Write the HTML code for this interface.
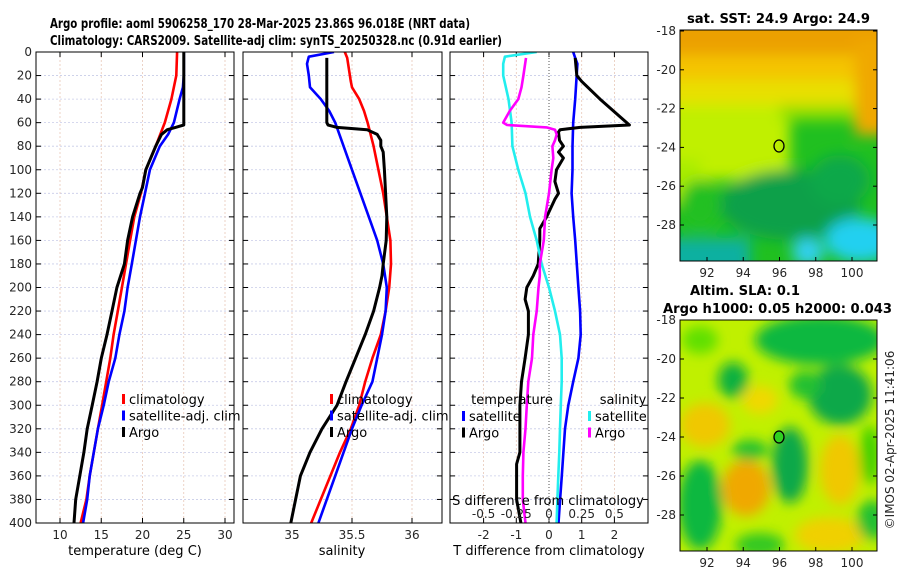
<!DOCTYPE html>
<html><head><meta charset="utf-8"><style>
body{margin:0;background:#fff;}
svg{display:block;font-family:"DejaVu Sans","Liberation Sans",sans-serif;}
.tk{font-size:12px;fill:#262626;}
.ttl{font-size:13.5px;font-weight:bold;fill:#000;}
.lg{font-size:13px;fill:#000;}
</style></head><body>
<svg id="fig" width="900" height="580" viewBox="0 0 900 580" xmlns="http://www.w3.org/2000/svg">
<defs>
<filter id="bl" x="-50%" y="-50%" width="200%" height="200%"><feGaussianBlur stdDeviation="7"/></filter>
<filter id="bl2" x="-50%" y="-50%" width="200%" height="200%"><feGaussianBlur stdDeviation="6"/></filter>
<clipPath id="c1"><rect x="36" y="52" width="198" height="471"/></clipPath>
<clipPath id="c2"><rect x="243" y="52" width="199" height="471"/></clipPath>
<clipPath id="c3"><rect x="450" y="52" width="198" height="471"/></clipPath>
<clipPath id="m1"><rect x="680" y="30" width="197" height="231"/></clipPath>
<clipPath id="m2"><rect x="680" y="320" width="197" height="231"/></clipPath>
</defs>
<text class="ttl" x="50" y="28" textLength="420" lengthAdjust="spacingAndGlyphs">Argo profile: aoml 5906258_170 28-Mar-2025 23.86S 96.018E (NRT data)</text>
<text class="ttl" x="50" y="45" textLength="452" lengthAdjust="spacingAndGlyphs">Climatology: CARS2009. Satellite-adj clim: synTS_20250328.nc (0.91d earlier)</text>
<g id="panels"></g>
<g id="maps">
<text class="ttl" x="687" y="23" textLength="183" lengthAdjust="spacingAndGlyphs">sat. SST: 24.9 Argo: 24.9</text>
<g clip-path="url(#m1)">
<rect x="680" y="30" width="197" height="231" fill="#20c020"/>
<g filter="url(#bl)">
<rect x="660" y="95" width="130" height="85" fill="#c0f000"/>
<rect x="660" y="160" width="40" height="45" fill="#a8ec00"/>
<rect x="780" y="95" width="110" height="25" fill="#90e000"/>
<rect x="660" y="70" width="240" height="35" fill="#e8e000"/>
<rect x="660" y="50" width="240" height="30" fill="#f4c400"/>
<rect x="660" y="10" width="240" height="45" fill="#eca000"/>
<rect x="855" y="40" width="40" height="95" fill="#f0a800"/>
<ellipse cx="790" cy="205" rx="70" ry="35" fill="#10a048"/>
<ellipse cx="840" cy="180" rx="30" ry="25" fill="#10a848"/>
<ellipse cx="700" cy="205" rx="20" ry="25" fill="#20c020"/>
<rect x="660" y="238" width="90" height="40" fill="#10b0a0"/>
<ellipse cx="860" cy="240" rx="35" ry="22" fill="#20d0f0"/>
<ellipse cx="808" cy="252" rx="16" ry="14" fill="#30d0f0"/>
</g></g>
<rect x="680" y="30" width="197" height="231" fill="none" stroke="#000" stroke-width="1"/>
<ellipse cx="779" cy="146" rx="5" ry="6" fill="none" stroke="#000" stroke-width="1.3"/>
<text class="ttl" x="690" y="295" textLength="110" lengthAdjust="spacingAndGlyphs">Altim. SLA: 0.1</text>
<text class="ttl" x="663" y="313" textLength="229" lengthAdjust="spacingAndGlyphs">Argo h1000: 0.05 h2000: 0.043</text>
<g clip-path="url(#m2)">
<rect x="680" y="320" width="197" height="231" fill="#c0f000"/>
<g filter="url(#bl2)">
<ellipse cx="820" cy="340" rx="65" ry="25" fill="#10b840"/>
<ellipse cx="700" cy="340" rx="18" ry="14" fill="#60e000"/>
<ellipse cx="733" cy="380" rx="15" ry="18" fill="#10b040"/>
<ellipse cx="840" cy="395" rx="32" ry="30" fill="#10a848"/>
<ellipse cx="805" cy="385" rx="16" ry="14" fill="#20c030"/>
<ellipse cx="705" cy="425" rx="25" ry="22" fill="#f0c800"/>
<ellipse cx="760" cy="400" rx="18" ry="14" fill="#f0d800"/>
<ellipse cx="790" cy="465" rx="18" ry="38" fill="#10a848"/>
<ellipse cx="750" cy="450" rx="18" ry="10" fill="#20c030"/>
<ellipse cx="700" cy="505" rx="22" ry="45" fill="#10b840"/>
<ellipse cx="746" cy="488" rx="24" ry="28" fill="#f0a800"/>
<ellipse cx="840" cy="470" rx="20" ry="35" fill="#f0c800"/>
<ellipse cx="870" cy="455" rx="10" ry="30" fill="#40d000"/>
<ellipse cx="830" cy="535" rx="35" ry="18" fill="#f0d000"/>
<ellipse cx="872" cy="520" rx="15" ry="20" fill="#20c030"/>
<ellipse cx="760" cy="545" rx="25" ry="12" fill="#30c820"/>
</g></g>
<rect x="680" y="320" width="197" height="231" fill="none" stroke="#000" stroke-width="1"/>
<ellipse cx="779" cy="437" rx="5" ry="6" fill="#30d020" stroke="#000" stroke-width="1.3"/>
<text class="tk" transform="translate(894,440) rotate(-90)" text-anchor="middle" font-size="13">©IMOS 02-Apr-2025 11:41:06</text>
</g>
</svg>
<script>
const depthTicks=[0,20,40,60,80,100,120,140,160,180,200,220,240,260,280,300,320,340,360,380,400];
const tempTicks=[10,15,20,25,30];
const salTicks=[35,35.5,36];
const tdTicks=[-2,-1,0,1,2];
const sdTicks=[-0.5,-0.25,0,0.25,0.5];
const sdTickLabels=["-0.5","-0.25","0","0.25","0.5"];
const latTicks=[-18,-20,-22,-24,-26,-28];
const lonTicks=[92,94,96,98,100];
// temperature profiles
const tClimDepth=[0,20,40,60,80,100,120,140,160,180,200,220,240,260,280,300,320,340,360,380,400];
const tClimVal=[24.2,24.1,23.5,22.7,21.6,20.4,19.8,19.0,18.5,18.0,17.5,17.0,16.5,16.1,15.6,15.1,14.6,14.1,13.6,13.2,12.5];
const tSatDepth=[0,20,30,40,60,70,80,100,120,140,160,180,200,220,240,260,280,300,320,340,360,380,400];
const tSatVal=[25.0,25.0,24.9,24.5,23.8,23.1,22.1,20.9,20.3,19.7,19.2,18.7,18.2,17.8,17.2,16.7,15.9,15.3,14.6,14.1,13.6,13.3,12.8];
const tArgoDepth=[0,20,40,62,64,66,70,80,100,115,120,140,160,180,200,220,240,260,280,300,320,340,360,380,400];
const tArgoVal=[25.0,25.0,25.0,25.0,24.0,23.0,22.3,21.6,20.4,20.0,19.7,18.8,18.2,17.8,16.9,16.3,15.7,15.0,14.5,13.9,13.3,12.9,12.4,11.9,11.7];
// salinity profiles
const sClimDepth=[0,5,25,30,40,50,60,80,100,120,140,160,180,200,220,240,260,280,300,320,340,360,380,400];
const sClimVal=[35.44,35.46,35.49,35.5,35.56,35.6,35.63,35.68,35.72,35.76,35.79,35.82,35.825,35.81,35.78,35.74,35.67,35.61,35.56,35.49,35.40,35.32,35.24,35.16];
const sSatDepth=[0,4,10,20,30,40,50,60,80,100,120,140,160,180,200,220,240,260,280,300,320,340,360,380,400];
const sSatVal=[35.35,35.14,35.125,35.14,35.15,35.24,35.31,35.36,35.43,35.5,35.57,35.64,35.71,35.76,35.79,35.78,35.75,35.71,35.67,35.58,35.5,35.43,35.36,35.29,35.22];
const sArgoDepth=[5,60,62,64,66,70,75,80,85,100,120,140,160,180,190,200,220,240,260,280,300,320,340,360,380,400];
const sArgoVal=[35.29,35.29,35.30,35.375,35.625,35.71,35.74,35.74,35.76,35.77,35.78,35.79,35.785,35.76,35.75,35.73,35.68,35.61,35.53,35.45,35.375,35.25,35.15,35.07,35.03,34.99];
// differences
const dTSatDepth=[0,5,10,40,60,80,100,120,140,160,180,200,220,240,260,280,300,320,340,360,380,400];
const dTSatVal=[0.74,0.8,0.87,0.8,0.74,0.72,0.72,0.69,0.74,0.8,0.85,0.9,0.95,0.97,0.9,0.74,0.59,0.49,0.44,0.39,0.34,0.29];
const dTArgoDepth=[5,20,25,40,55,62,64,66,68,75,80,85,90,100,110,120,125,140,150,160,180,190,200,210,220,240,260,280,300,320,340,350,360,380,400];
const dTArgoVal=[0.8,0.85,1.0,1.56,2.17,2.46,0.95,0.34,0.29,0.32,0.44,0.29,0.44,0.23,0.18,0.29,0.18,-0.07,-0.28,-0.28,-0.33,-0.48,-0.68,-0.73,-0.63,-0.63,-0.73,-0.84,-0.89,-0.89,-0.89,-0.99,-0.99,-0.99,-0.86];
const dSSatDepth=[0,4,10,20,40,60,80,100,120,140,160,180,200,220,240,260,280,300,320,340,360,380,400];
const dSSatVal=[-0.094,-0.337,-0.35,-0.35,-0.31,-0.286,-0.28,-0.235,-0.18,-0.145,-0.094,-0.056,0,0.046,0.084,0.097,0.097,0.09,0.084,0.079,0.071,0.064,0.058];
const dSArgoDepth=[5,20,30,40,50,60,62,64,66,70,75,80,90,100,120,140,160,180,190,200,220,240,260,280,300,320,340,360,380,400];
const dSArgoVal=[-0.176,-0.196,-0.21,-0.235,-0.3,-0.35,-0.32,-0.018,0.046,0.059,0.046,0.026,0.033,0.02,0,-0.03,-0.04,-0.07,-0.07,-0.08,-0.094,-0.12,-0.13,-0.158,-0.17,-0.18,-0.196,-0.2,-0.2,-0.18];

const NS='http://www.w3.org/2000/svg';
const root=document.getElementById('panels');
const Y0=52,Y1=523;
function yD(d){return Y0+(d/400)*(Y1-Y0);}
function mk(tag,attrs,parent){const e=document.createElementNS(NS,tag);for(const k in attrs)e.setAttribute(k,attrs[k]);(parent||root).appendChild(e);return e;}
function lin(v0,v1,p0,p1){return v=>p0+(v-v0)/(v1-v0)*(p1-p0);}
const xT=lin(10,30,60,225);
const xS=lin(35,36,292,412);
const xTD=lin(0,1,549,581.7);
const xSD=lin(0,0.25,549,581.7);
const panels=[
 {x0:36,x1:234,clip:'c1',name:'temperature-panel'},
 {x0:243,x1:442,clip:'c2',name:'salinity-panel'},
 {x0:450,x1:648,clip:'c3',name:'difference-panel'}];

function drawFrame(p,xTicks,xf,gridX,leftLabels){
  const g=mk('g',{});
  
  
  mk('rect',{x:p.x0,y:Y0,width:p.x1-p.x0,height:Y1-Y0,fill:'#fff'},g);
  depthTicks.forEach(d=>{
    const l=mk('line',{x1:p.x0,x2:p.x1,y1:yD(d),y2:yD(d),stroke:'#c8cce8','stroke-width':0.8,'stroke-dasharray':'2,2'},g);
    
    
    mk('line',{x1:p.x0,x2:p.x0+5,y1:yD(d),y2:yD(d),stroke:'#000'},g);
    mk('line',{x1:p.x1,x2:p.x1-5,y1:yD(d),y2:yD(d),stroke:'#000'},g);
    if(leftLabels){const t=mk('text',{x:p.x0-4,y:yD(d)+4,'text-anchor':'end',class:'tk'},g);t.textContent=d;
      
      }
  });
  gridX.forEach(v=>{
    const x=xf(v);
    const l=mk('line',{x1:x,x2:x,y1:Y0,y2:Y1,stroke:'#e8c8b8','stroke-width':0.8,'stroke-dasharray':'2,2'},g);
    
    
  });
  xTicks.forEach(v=>{
    const x=xf(v);
    mk('line',{x1:x,x2:x,y1:Y1,y2:Y1-5,stroke:'#000'},g);
    mk('line',{x1:x,x2:x,y1:Y0,y2:Y0+5,stroke:'#000'},g);
    const t=mk('text',{x:x,y:Y1+16,'text-anchor':'middle',class:'tk'},g);t.textContent=v;
    
    
  });
  return g;
}
function series(p,depths,vals,xf,color,name,w){
  const pts=depths.map((d,i)=>xf(vals[i]).toFixed(1)+','+yD(d).toFixed(1)).join(' ');
  const e=mk('polyline',{points:pts,fill:'none',stroke:color,'stroke-width':w||2.6,'stroke-linejoin':'round','clip-path':'url(#'+p.clip+')'});
  
  
}
function border(p){mk('rect',{x:p.x0,y:Y0,width:p.x1-p.x0,height:Y1-Y0,fill:'none',stroke:'#000','stroke-width':1});}
function legend(x,y,items){
  items.forEach((it,i)=>{
    mk('rect',{x:x,y:y+i*16.5-10,width:3,height:10,fill:it[1]});
    const t=mk('text',{x:x+7,y:y+i*16.5,class:'lg'});t.textContent=it[0];
    
    
  });
}
function label(x,y,txt,name){const t=mk('text',{x:x,y:y,'text-anchor':'middle',class:'lg'});t.textContent=txt;
  
  }

drawFrame(panels[0],tempTicks,xT,[10,15,20,25,30],true);
series(panels[0],tClimDepth,tClimVal,xT,'#ff0000','temp-climatology-line');
series(panels[0],tSatDepth,tSatVal,xT,'#0000ff','temp-satellite-line');
series(panels[0],tArgoDepth,tArgoVal,xT,'#000000','temp-argo-line',3);
border(panels[0]);
legend(122,404,[['climatology','#ff0000'],['satellite-adj. clim','#0000ff'],['Argo','#000']]);
label(135,555,'temperature (deg C)','temp-x-axis-title');

drawFrame(panels[1],salTicks,xS,[35,35.5,36],false);
series(panels[1],sClimDepth,sClimVal,xS,'#ff0000','sal-climatology-line');
series(panels[1],sSatDepth,sSatVal,xS,'#0000ff','sal-satellite-line');
series(panels[1],sArgoDepth,sArgoVal,xS,'#000000','sal-argo-line',3);
border(panels[1]);
legend(330,404,[['climatology','#ff0000'],['satellite-adj. clim','#0000ff'],['Argo','#000']]);
label(342,555,'salinity','sal-x-axis-title');

drawFrame(panels[2],tdTicks,xTD,[-2,-1,1,2],false);
mk('line',{x1:xTD(0),x2:xTD(0),y1:Y0,y2:Y1,stroke:'#555','stroke-width':1,'stroke-dasharray':'1,2'});
series(panels[2],dTSatDepth,dTSatVal,xTD,'#0000ff','tdiff-satellite-line');
series(panels[2],dTArgoDepth,dTArgoVal,xTD,'#000000','tdiff-argo-line',3);
series(panels[2],dSSatDepth,dSSatVal,xSD,'#22eeee','sdiff-satellite-line');
series(panels[2],dSArgoDepth,dSArgoVal,xSD,'#ff00ff','sdiff-argo-line');
border(panels[2]);
label(512,404,'temperature','legend-temperature-header');
legend(462,421,[['satellite','#0000ff'],['Argo','#000']]);
label(623,404,'salinity','legend-salinity-header');
legend(588,421,[['satellite','#22eeee'],['Argo','#ff00ff']]);
label(548,505,'S difference from climatology','sdiff-axis-title');
sdTicks.forEach((v,i)=>{const t=mk('text',{x:xSD(v),y:518,'text-anchor':'middle',class:'tk'});t.textContent=sdTickLabels[i];
  
  });
label(549,555,'T difference from climatology','tdiff-axis-title');

const lonX=lin(92,100,707,852);
const maps=document.getElementById('maps');
[[31,19.4,30,261],[320,19.5,320,551]].forEach(m=>{
  const latY=v=>m[0]+(-18-v)*m[1];
  latTicks.forEach(v=>{
    const y=latY(v);
    mk('line',{x1:680,x2:684,y1:y,y2:y,stroke:'#000'},maps);
    mk('line',{x1:877,x2:873,y1:y,y2:y,stroke:'#000'},maps);
    const t=mk('text',{x:676,y:y+4,'text-anchor':'end',class:'tk'},maps);t.textContent=v;
    
    
  });
  lonTicks.forEach(v=>{
    const x=lonX(v);
    mk('line',{x1:x,x2:x,y1:m[3],y2:m[3]-4,stroke:'#000'},maps);
    const t=mk('text',{x:x,y:m[3]+16,'text-anchor':'middle',class:'tk'},maps);t.textContent=v;
    
    
  });
});
</script>
</body></html>
